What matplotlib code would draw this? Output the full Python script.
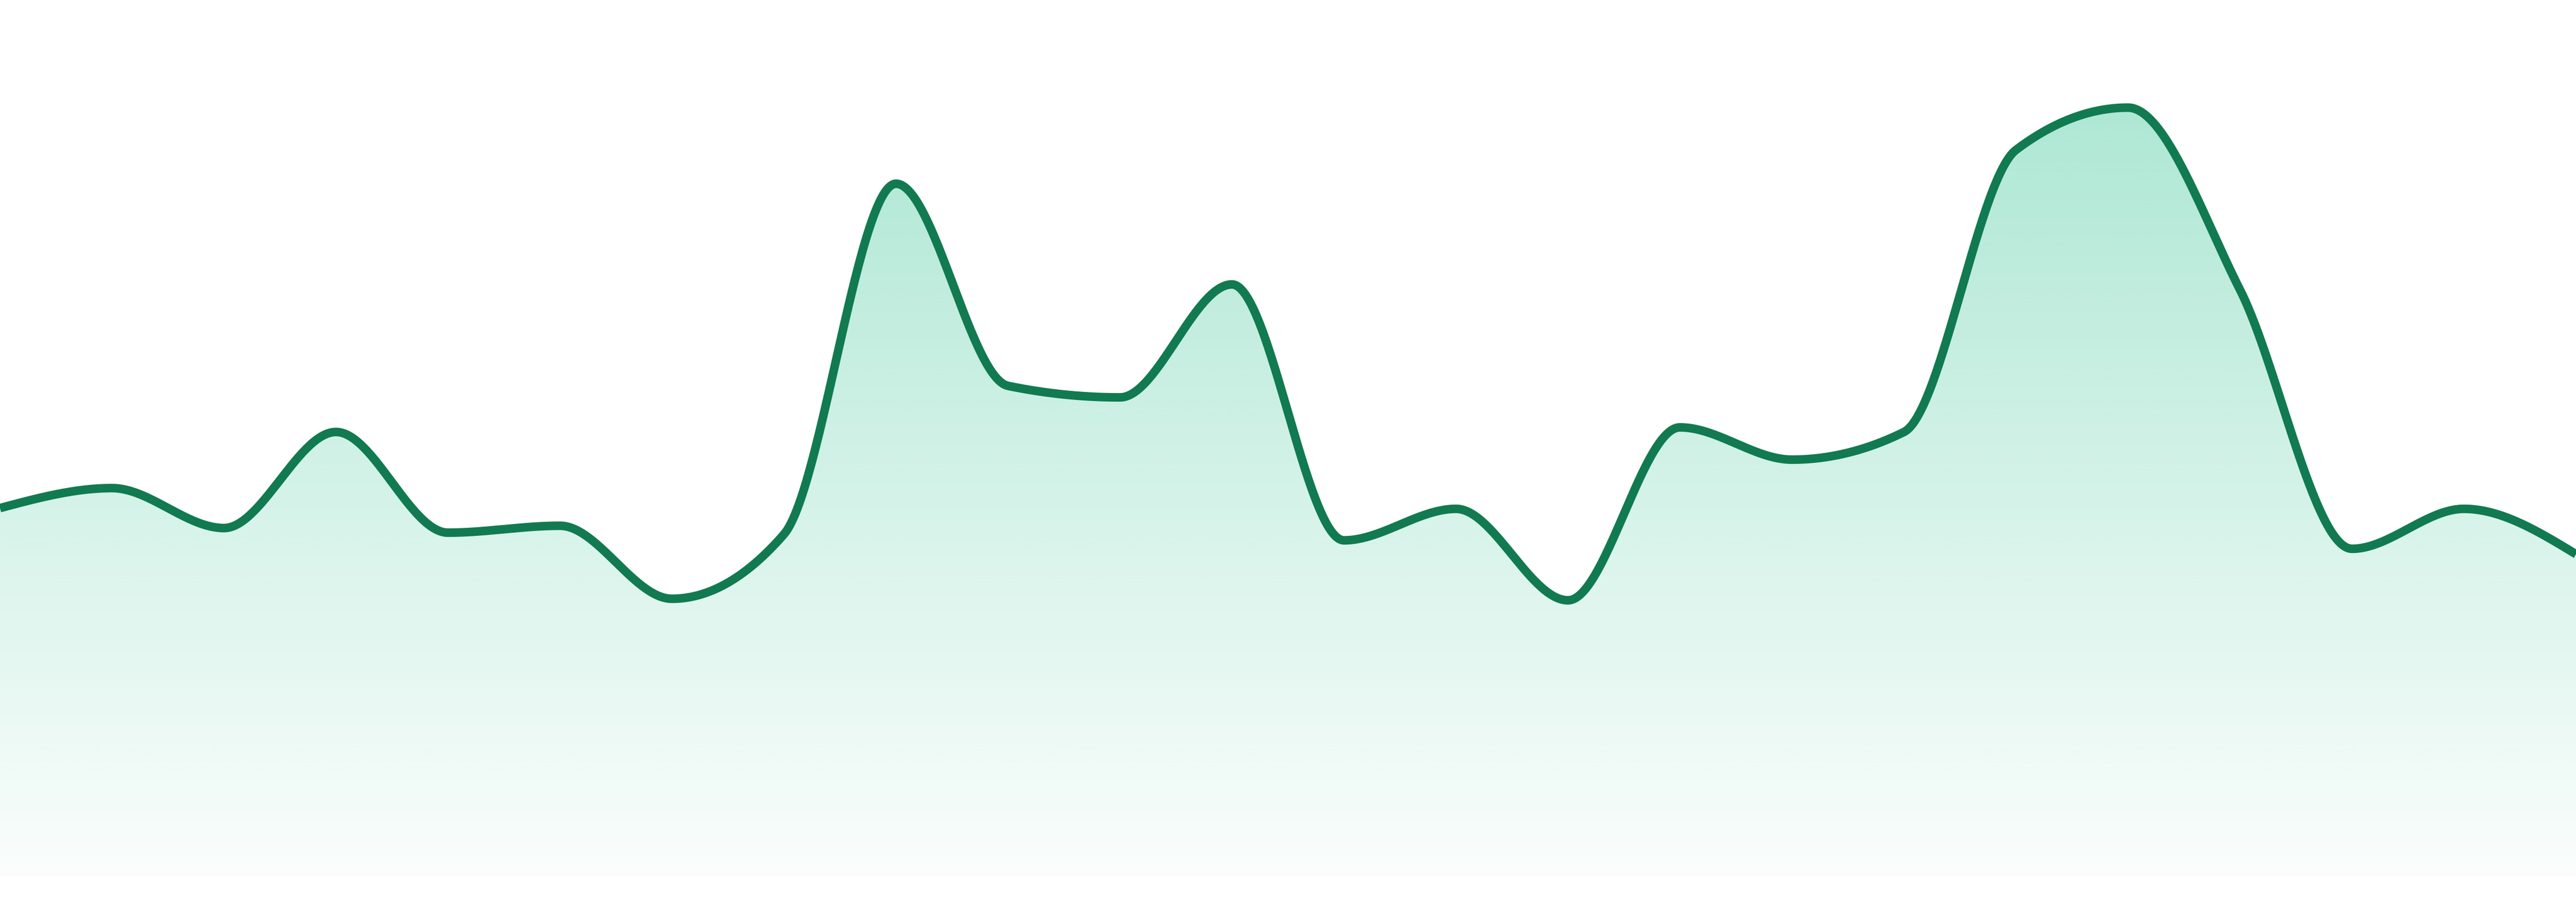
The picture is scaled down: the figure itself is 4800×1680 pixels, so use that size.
import numpy as np
import matplotlib
matplotlib.use('Agg')
import matplotlib.pyplot as plt
from matplotlib.colors import to_rgb

# sparkline values (0-100 scale), one per period
periods = list(range(24))
values = [47.9, 50.5, 45.3, 57.8, 44.7, 45.6, 36.1, 44.5,
          90.1, 63.8, 62.3, 77.0, 43.7, 47.8, 35.9, 58.4,
          54.2, 57.8, 94.5, 100.0, 76.3, 42.6, 47.8, 41.9]

line_col = '#117a50'
fill_col = '#10b981'


def monotone_x(x, y, n=60):
    # same tangents as d3.curveMonotoneX
    x = np.asarray(x, float)
    y = np.asarray(y, float)
    h = np.diff(x)
    s = np.diff(y) / h
    t = np.zeros_like(y)
    for i in range(1, len(x) - 1):
        p = (s[i-1]*h[i] + s[i]*h[i-1]) / (h[i-1] + h[i])
        t[i] = (np.sign(s[i-1]) + np.sign(s[i])) * min(abs(s[i-1]), abs(s[i]), 0.5*abs(p))
    t[0] = (3*s[0] - t[1]) / 2
    t[-1] = (3*s[-1] - t[-2]) / 2
    xs, ys = [], []
    for i in range(len(x) - 1):
        u = np.linspace(0, 1, n, endpoint=False)
        h00 = 2*u**3 - 3*u**2 + 1
        h10 = u**3 - 2*u**2 + u
        h01 = -2*u**3 + 3*u**2
        h11 = u**3 - u**2
        xs.append(x[i] + u*h[i])
        ys.append(h00*y[i] + h10*h[i]*t[i] + h01*y[i+1] + h11*h[i]*t[i+1])
    xs.append([x[-1]])
    ys.append([y[-1]])
    return np.concatenate(xs), np.concatenate(ys)


xs, ys = monotone_x(periods, values)

fig = plt.figure(figsize=(16, 5.6), dpi=300)
ax = fig.add_axes([0, 0, 1, 1])
ax.set_xlim(0, 23)
ax.set_ylim(-3.35, 114.0)
ax.axis('off')

# gradient fill under the curve
poly = ax.fill_between(xs, ys, 0, color='none', linewidth=0)
rgb = to_rgb(fill_col)
grad = np.zeros((256, 1, 4))
grad[:, 0, :3] = rgb
grad[:, 0, 3] = np.linspace(0.34, 0.02, 256)
img = ax.imshow(grad, extent=[0, 23, 0, max(values)], aspect='auto',
                origin='upper', zorder=1, interpolation='bilinear')
img.set_clip_path(poly.get_paths()[0], transform=ax.transData)

ax.plot(xs, ys, color=line_col, linewidth=3.84, zorder=2,
        solid_joinstyle='round', solid_capstyle='butt')

plt.savefig('out.png', dpi=300)
plt.close()
